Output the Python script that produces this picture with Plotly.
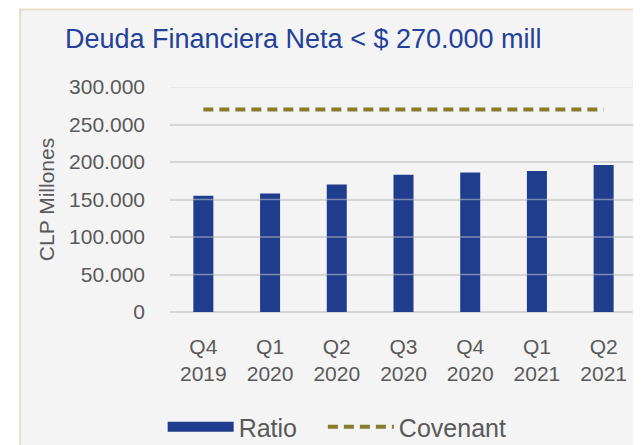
import plotly.graph_objects as go

quarters = ["Q4<br>2019", "Q1<br>2020", "Q2<br>2020", "Q3<br>2020",
            "Q4<br>2020", "Q1<br>2021", "Q2<br>2021"]
deuda = [155000, 158000, 170000, 183000, 186000, 188000, 196000]
covenant = [270000] * 7
y_ticks = [0, 50000, 100000, 150000, 200000, 250000, 300000]

navy = "#1f3d8c"
olive = "#8a7b28"
gray = "#595959"
font = "Liberation Sans, Arial, sans-serif"

fig = go.Figure()
fig.add_trace(go.Bar(x=quarters, y=deuda, name="Ratio", marker_color=navy,
                     marker_line_width=0, width=0.3, showlegend=False))
# wide legend swatch for the bars, like the original
fig.add_trace(go.Scatter(x=[None], y=[None], name="Ratio\u00a0\u00a0\u00a0", mode="lines",
                         line=dict(color=navy, width=14)))
fig.add_trace(go.Scatter(x=quarters, y=covenant, name="Covenant", mode="lines",
                         line=dict(color=olive, width=4, dash="10px,6px")))

# panel background with beige border
fig.add_shape(type="rect", xref="paper", yref="paper", x0=-0.321, x1=1.2,
              y0=-0.7, y1=1.345, fillcolor="#f4f4f4",
              line=dict(color="#e8dcc8", width=2), layer="below")

# gridlines show faintly across the bars
for v in y_ticks[1:]:
    fig.add_hline(y=v, line=dict(color="rgba(214,214,214,0.5)", width=1.5), layer="above")

fig.update_layout(
    width=633, height=437,
    margin=dict(l=162, r=4, t=79, b=133, autoexpand=False),
    paper_bgcolor="white", plot_bgcolor="rgba(0,0,0,0)",
    separators=",.",
    font=dict(family=font, size=21, color=gray),
    title=dict(text="Deuda Financiera Neta < $ 270.000 mill",
               font=dict(size=27, color="#23409a", family=font),
               xref="container", x=0.09, xanchor="left",
               yref="container", y=0.93, yanchor="middle"),
    showlegend=True,
    legend=dict(orientation="h", xref="container", x=0.52, xanchor="center",
                yref="container", y=0.041, yanchor="middle", itemwidth=66,
                bgcolor="rgba(0,0,0,0)", font=dict(size=25, color=gray)),
)
fig.update_xaxes(showgrid=False, showline=False, ticks="", tickfont=dict(size=21, color=gray),
                 ticklabelstandoff=20)
fig.update_yaxes(range=[0, 300000], tickvals=y_ticks, tickformat=",d",
                 gridcolor="#d6d6d6", gridwidth=1.5, zeroline=True,
                 zerolinecolor="#d6d6d6", zerolinewidth=1.5,
                 tickfont=dict(size=21, color=gray), ticklabelstandoff=24,
                 title=dict(text="CLP Millones", font=dict(size=21, color=gray), standoff=8))

fig.write_html("out.html")
